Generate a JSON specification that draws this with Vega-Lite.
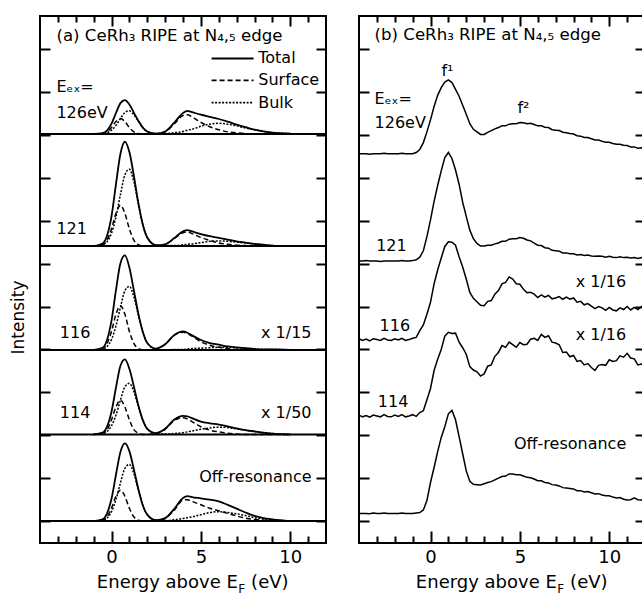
{
  "$schema": "https://vega.github.io/schema/vega-lite/v6.json",
  "padding": {"left": 8, "top": 14, "right": 0, "bottom": 0},
  "background": "white",
  "spacing": 27,
  "config": {
    "view": {"stroke": "black", "strokeWidth": 2},
    "axis": {"domain": false, "grid": false, "tickColor": "black", "tickWidth": 2, "labelFont": "DejaVu Sans", "labelFontSize": 18, "labelColor": "black", "titleFont": "DejaVu Sans", "titleColor": "black", "titleFontWeight": "normal"},
    "text": {"font": "DejaVu Sans", "fontSize": 16, "color": "black"},
    "line": {"color": "black"},
    "rule": {"color": "black"}
  },
  "datasets": {
    "base": [{"y": 9.02}, {"y": 6.41}, {"y": 3.99}, {"y": 2.02}, {"y": 0}],
    "pa": [
      {"x": -1, "T126": 9.02, "S126": 9.02, "B126": 9.02, "T121": 6.41, "S121": 6.41, "B121": 6.41, "T116": 3.99, "S116": 3.99, "B116": 3.99, "T114": 2.02, "S114": 2.02, "B114": 2.02, "T0": 0, "S0": 0, "B0": 0},
      {"x": -0.5, "T126": 9.04, "S126": 9.03, "B126": 9.03, "T121": 6.47, "S121": 6.44, "B121": 6.44, "T116": 4.04, "S116": 4.02, "B116": 4.01, "T114": 2.06, "S114": 2.05, "B114": 2.04, "T0": 0.04, "S0": 0.02, "B0": 0.02},
      {"x": -0.25, "T126": 9.10, "S126": 9.07, "B126": 9.05, "T121": 6.65, "S121": 6.55, "B121": 6.51, "T116": 4.22, "S116": 4.14, "B116": 4.07, "T114": 2.20, "S114": 2.13, "B114": 2.09, "T0": 0.18, "S0": 0.10, "B0": 0.07},
      {"x": 0, "T126": 9.26, "S126": 9.17, "B126": 9.11, "T121": 7.10, "S121": 6.81, "B121": 6.71, "T116": 4.67, "S116": 4.42, "B116": 4.23, "T114": 2.55, "S114": 2.36, "B114": 2.22, "T0": 0.52, "S0": 0.30, "B0": 0.22},
      {"x": 0.25, "T126": 9.51, "S126": 9.31, "B126": 9.22, "T121": 7.85, "S121": 7.17, "B121": 7.09, "T116": 5.38, "S116": 4.82, "B116": 4.55, "T114": 3.11, "S114": 2.66, "B114": 2.47, "T0": 1.08, "S0": 0.58, "B0": 0.50},
      {"x": 0.5, "T126": 9.74, "S126": 9.38, "B126": 9.38, "T121": 8.56, "S121": 7.36, "B121": 7.61, "T116": 6.01, "S116": 5.02, "B116": 4.98, "T114": 3.62, "S114": 2.82, "B114": 2.82, "T0": 1.61, "S0": 0.72, "B0": 0.89},
      {"x": 0.75, "T126": 9.81, "S126": 9.31, "B126": 9.52, "T121": 8.84, "S121": 7.17, "B121": 8.07, "T116": 6.19, "S116": 4.82, "B116": 5.37, "T114": 3.77, "S114": 2.66, "B114": 3.13, "T0": 1.81, "S0": 0.58, "B0": 1.23},
      {"x": 1, "T126": 9.71, "S126": 9.17, "B126": 9.56, "T121": 8.60, "S121": 6.81, "B121": 8.20, "T116": 5.91, "S116": 4.42, "B116": 5.47, "T114": 3.55, "S114": 2.36, "B114": 3.21, "T0": 1.63, "S0": 0.30, "B0": 1.32},
      {"x": 1.25, "T126": 9.52, "S126": 9.07, "B126": 9.47, "T121": 8.05, "S121": 6.55, "B121": 7.91, "T116": 5.38, "S116": 4.14, "B116": 5.23, "T114": 3.14, "S114": 2.13, "B114": 3.02, "T0": 1.21, "S0": 0.10, "B0": 1.11},
      {"x": 1.5, "T126": 9.33, "S126": 9.03, "B126": 9.32, "T121": 7.42, "S121": 6.44, "B121": 7.39, "T116": 4.84, "S116": 4.02, "B116": 4.80, "T114": 2.70, "S114": 2.05, "B114": 2.68, "T0": 0.75, "S0": 0.02, "B0": 0.73},
      {"x": 1.75, "T126": 9.17, "S126": 9.02, "B126": 9.17, "T121": 6.91, "S121": 6.41, "B121": 6.91, "T116": 4.41, "S116": 3.99, "B116": 4.40, "T114": 2.36, "S114": 2.02, "B114": 2.35, "T0": 0.37, "S0": 0, "B0": 0.37},
      {"x": 2, "T126": 9.08, "S126": 9.02, "B126": 9.08, "T121": 6.61, "S121": 6.41, "B121": 6.61, "T116": 4.15, "S116": 3.99, "B116": 4.15, "T114": 2.15, "S114": 2.02, "B114": 2.15, "T0": 0.15, "S0": 0, "B0": 0.15},
      {"x": 2.5, "T126": 9.03, "S126": 9.02, "B126": 9.03, "T121": 6.43, "S121": 6.41, "B121": 6.43, "T116": 4.02, "S116": 4.01, "B116": 4.00, "T114": 2.05, "S114": 2.04, "B114": 2.03, "T0": 0.02, "S0": 0, "B0": 0.02},
      {"x": 3, "T126": 9.08, "S126": 9.07, "B126": 9.03, "T121": 6.45, "S121": 6.44, "B121": 6.42, "T116": 4.12, "S116": 4.12, "B116": 3.99, "T114": 2.15, "S114": 2.14, "B114": 2.03, "T0": 0.07, "S0": 0.06, "B0": 0.01},
      {"x": 3.5, "T126": 9.28, "S126": 9.25, "B126": 9.05, "T121": 6.59, "S121": 6.58, "B121": 6.42, "T116": 4.33, "S116": 4.33, "B116": 4.00, "T114": 2.36, "S114": 2.34, "B114": 2.04, "T0": 0.28, "S0": 0.25, "B0": 0.03},
      {"x": 4, "T126": 9.51, "S126": 9.45, "B126": 9.08, "T121": 6.75, "S121": 6.72, "B121": 6.44, "T116": 4.42, "S116": 4.40, "B116": 4.00, "T114": 2.45, "S114": 2.41, "B114": 2.06, "T0": 0.54, "S0": 0.49, "B0": 0.06},
      {"x": 4.25, "T126": 9.56, "S126": 9.47, "B126": 9.11, "T121": 6.78, "S121": 6.74, "B121": 6.45, "T116": 4.39, "S116": 4.37, "B116": 4.01, "T114": 2.44, "S114": 2.38, "B114": 2.08, "T0": 0.58, "S0": 0.50, "B0": 0.08},
      {"x": 4.5, "T126": 9.53, "S126": 9.42, "B126": 9.13, "T121": 6.75, "S121": 6.70, "B121": 6.46, "T116": 4.33, "S116": 4.31, "B116": 4.02, "T114": 2.40, "S114": 2.32, "B114": 2.10, "T0": 0.56, "S0": 0.46, "B0": 0.10},
      {"x": 5, "T126": 9.47, "S126": 9.29, "B126": 9.20, "T121": 6.69, "S121": 6.61, "B121": 6.49, "T116": 4.22, "S116": 4.18, "B116": 4.03, "T114": 2.32, "S114": 2.20, "B114": 2.14, "T0": 0.53, "S0": 0.38, "B0": 0.15},
      {"x": 5.5, "T126": 9.42, "S126": 9.19, "B126": 9.25, "T121": 6.64, "S121": 6.54, "B121": 6.52, "T116": 4.15, "S116": 4.10, "B116": 4.04, "T114": 2.28, "S114": 2.12, "B114": 2.17, "T0": 0.50, "S0": 0.30, "B0": 0.20},
      {"x": 6, "T126": 9.37, "S126": 9.12, "B126": 9.27, "T121": 6.60, "S121": 6.48, "B121": 6.53, "T116": 4.11, "S116": 4.05, "B116": 4.05, "T114": 2.25, "S114": 2.08, "B114": 2.19, "T0": 0.46, "S0": 0.24, "B0": 0.22},
      {"x": 6.5, "T126": 9.31, "S126": 9.07, "B126": 9.25, "T121": 6.56, "S121": 6.45, "B121": 6.52, "T116": 4.07, "S116": 4.02, "B116": 4.05, "T114": 2.21, "S114": 2.05, "B114": 2.18, "T0": 0.38, "S0": 0.18, "B0": 0.20},
      {"x": 7, "T126": 9.24, "S126": 9.05, "B126": 9.21, "T121": 6.52, "S121": 6.43, "B121": 6.50, "T116": 4.05, "S116": 4.00, "B116": 4.04, "T114": 2.16, "S114": 2.03, "B114": 2.15, "T0": 0.29, "S0": 0.12, "B0": 0.17},
      {"x": 7.5, "T126": 9.18, "S126": 9.03, "B126": 9.16, "T121": 6.49, "S121": 6.42, "B121": 6.48, "T116": 4.03, "S116": 3.99, "B116": 4.02, "T114": 2.12, "S114": 2.02, "B114": 2.12, "T0": 0.20, "S0": 0.07, "B0": 0.13},
      {"x": 8, "T126": 9.12, "S126": 9.02, "B126": 9.12, "T121": 6.46, "S121": 6.41, "B121": 6.46, "T116": 4.01, "S116": 3.99, "B116": 4.01, "T114": 2.09, "S114": 2.02, "B114": 2.09, "T0": 0.12, "S0": 0.04, "B0": 0.08},
      {"x": 8.5, "T126": 9.08, "S126": 9.02, "B126": 9.08, "T121": 6.44, "S121": 6.41, "B121": 6.44, "T116": 4.00, "S116": 3.99, "B116": 4.00, "T114": 2.06, "S114": 2.02, "B114": 2.06, "T0": 0.07, "S0": 0.02, "B0": 0.05},
      {"x": 9, "T126": 9.05, "S126": 9.02, "B126": 9.05, "T121": 6.42, "S121": 6.41, "B121": 6.42, "T116": 4.00, "S116": 3.99, "B116": 4.00, "T114": 2.04, "S114": 2.02, "B114": 2.04, "T0": 0.04, "S0": 0.01, "B0": 0.03},
      {"x": 10, "T126": 9.03, "S126": 9.02, "B126": 9.03, "T121": 6.41, "S121": 6.41, "B121": 6.41, "T116": 3.99, "S116": 3.99, "B116": 3.99, "T114": 2.02, "S114": 2.02, "B114": 2.02, "T0": 0, "S0": 0, "B0": 0}
    ],
    "pb": [
      {"x": -4.0, "p126": 8.56, "p121": 6.06, "p116": 4.25, "p114": 2.47, "poff": 0.18},
      {"x": -3.8, "p126": 8.56, "p121": 6.06, "p116": 4.21, "p114": 2.43, "poff": 0.18},
      {"x": -3.6, "p126": 8.56, "p121": 6.07, "p116": 4.24, "p114": 2.46, "poff": 0.18},
      {"x": -3.4, "p126": 8.55, "p121": 6.06, "p116": 4.20, "p114": 2.42, "poff": 0.17},
      {"x": -3.2, "p126": 8.56, "p121": 6.06, "p116": 4.25, "p114": 2.47, "poff": 0.19},
      {"x": -3.0, "p126": 8.56, "p121": 6.06, "p116": 4.23, "p114": 2.45, "poff": 0.18},
      {"x": -2.8, "p126": 8.56, "p121": 6.05, "p116": 4.21, "p114": 2.43, "poff": 0.18},
      {"x": -2.6, "p126": 8.57, "p121": 6.06, "p116": 4.26, "p114": 2.48, "poff": 0.19},
      {"x": -2.4, "p126": 8.56, "p121": 6.06, "p116": 4.22, "p114": 2.44, "poff": 0.18},
      {"x": -2.2, "p126": 8.56, "p121": 6.06, "p116": 4.21, "p114": 2.43, "poff": 0.18},
      {"x": -2.0, "p126": 8.56, "p121": 6.06, "p116": 4.25, "p114": 2.47, "poff": 0.18},
      {"x": -1.8, "p126": 8.56, "p121": 6.06, "p116": 4.22, "p114": 2.44, "poff": 0.18},
      {"x": -1.6, "p126": 8.57, "p121": 6.07, "p116": 4.26, "p114": 2.48, "poff": 0.19},
      {"x": -1.4, "p126": 8.56, "p121": 6.06, "p116": 4.21, "p114": 2.43, "poff": 0.18},
      {"x": -1.2, "p126": 8.56, "p121": 6.06, "p116": 4.23, "p114": 2.45, "poff": 0.18},
      {"x": -1.0, "p126": 8.56, "p121": 6.07, "p116": 4.26, "p114": 2.48, "poff": 0.18},
      {"x": -0.8, "p126": 8.59, "p121": 6.09, "p116": 4.28, "p114": 2.44, "poff": 0.19},
      {"x": -0.6, "p126": 8.66, "p121": 6.15, "p116": 4.44, "p114": 2.53, "poff": 0.20},
      {"x": -0.4, "p126": 8.82, "p121": 6.30, "p116": 4.57, "p114": 2.57, "poff": 0.26},
      {"x": -0.2, "p126": 9.07, "p121": 6.63, "p116": 4.82, "p114": 2.83, "poff": 0.48},
      {"x": 0.0, "p126": 9.35, "p121": 7.02, "p116": 5.10, "p114": 3.09, "poff": 0.90},
      {"x": 0.2, "p126": 9.66, "p121": 7.45, "p116": 5.53, "p114": 3.51, "poff": 1.25},
      {"x": 0.4, "p126": 9.92, "p121": 7.82, "p116": 5.85, "p114": 3.77, "poff": 1.62},
      {"x": 0.6, "p126": 10.10, "p121": 8.16, "p116": 6.13, "p114": 4.00, "poff": 1.95},
      {"x": 0.8, "p126": 10.23, "p121": 8.47, "p116": 6.40, "p114": 4.31, "poff": 2.20},
      {"x": 1.0, "p126": 10.28, "p121": 8.59, "p116": 6.51, "p114": 4.40, "poff": 2.50},
      {"x": 1.2, "p126": 10.22, "p121": 8.45, "p116": 6.50, "p114": 4.37, "poff": 2.58},
      {"x": 1.4, "p126": 10.06, "p121": 8.18, "p116": 6.43, "p114": 4.38, "poff": 2.36},
      {"x": 1.6, "p126": 9.90, "p121": 7.85, "p116": 6.16, "p114": 4.17, "poff": 1.97},
      {"x": 1.8, "p126": 9.69, "p121": 7.43, "p116": 5.92, "p114": 4.04, "poff": 1.57},
      {"x": 2.0, "p126": 9.48, "p121": 7.10, "p116": 5.64, "p114": 3.89, "poff": 1.17},
      {"x": 2.2, "p126": 9.26, "p121": 6.78, "p116": 5.33, "p114": 3.60, "poff": 0.93},
      {"x": 2.4, "p126": 9.13, "p121": 6.58, "p116": 5.19, "p114": 3.52, "poff": 0.86},
      {"x": 2.6, "p126": 9.07, "p121": 6.47, "p116": 5.11, "p114": 3.48, "poff": 0.85},
      {"x": 2.8, "p126": 9.01, "p121": 6.41, "p116": 5.03, "p114": 3.38, "poff": 0.84},
      {"x": 3.0, "p126": 9.01, "p121": 6.41, "p116": 5.02, "p114": 3.43, "poff": 0.87},
      {"x": 3.2, "p126": 9.06, "p121": 6.43, "p116": 5.12, "p114": 3.61, "poff": 0.90},
      {"x": 3.4, "p126": 9.10, "p121": 6.43, "p116": 5.14, "p114": 3.64, "poff": 0.92},
      {"x": 3.6, "p126": 9.14, "p121": 6.46, "p116": 5.29, "p114": 3.84, "poff": 0.96},
      {"x": 3.8, "p126": 9.17, "p121": 6.48, "p116": 5.37, "p114": 3.93, "poff": 1.00},
      {"x": 4.0, "p126": 9.21, "p121": 6.52, "p116": 5.53, "p114": 4.09, "poff": 1.04},
      {"x": 4.2, "p126": 9.21, "p121": 6.52, "p116": 5.56, "p114": 4.05, "poff": 1.05},
      {"x": 4.4, "p126": 9.25, "p121": 6.57, "p116": 5.69, "p114": 4.17, "poff": 1.10},
      {"x": 4.6, "p126": 9.26, "p121": 6.58, "p116": 5.64, "p114": 4.11, "poff": 1.10},
      {"x": 4.8, "p126": 9.26, "p121": 6.58, "p116": 5.53, "p114": 4.05, "poff": 1.08},
      {"x": 5.0, "p126": 9.29, "p121": 6.61, "p116": 5.52, "p114": 4.16, "poff": 1.08},
      {"x": 5.2, "p126": 9.28, "p121": 6.59, "p116": 5.40, "p114": 4.11, "poff": 1.05},
      {"x": 5.4, "p126": 9.26, "p121": 6.55, "p116": 5.32, "p114": 4.12, "poff": 1.02},
      {"x": 5.6, "p126": 9.27, "p121": 6.53, "p116": 5.33, "p114": 4.24, "poff": 1.01},
      {"x": 5.8, "p126": 9.24, "p121": 6.48, "p116": 5.29, "p114": 4.26, "poff": 0.98},
      {"x": 6.0, "p126": 9.21, "p121": 6.43, "p116": 5.21, "p114": 4.21, "poff": 0.94},
      {"x": 6.2, "p126": 9.21, "p121": 6.42, "p116": 5.27, "p114": 4.35, "poff": 0.94},
      {"x": 6.4, "p126": 9.18, "p121": 6.37, "p116": 5.22, "p114": 4.28, "poff": 0.90},
      {"x": 6.6, "p126": 9.17, "p121": 6.36, "p116": 5.26, "p114": 4.32, "poff": 0.89},
      {"x": 6.8, "p126": 9.12, "p121": 6.31, "p116": 5.18, "p114": 4.17, "poff": 0.85},
      {"x": 7.0, "p126": 9.11, "p121": 6.30, "p116": 5.20, "p114": 4.15, "poff": 0.84},
      {"x": 7.2, "p126": 9.10, "p121": 6.29, "p116": 5.23, "p114": 4.11, "poff": 0.82},
      {"x": 7.4, "p126": 9.06, "p121": 6.25, "p116": 5.17, "p114": 3.93, "poff": 0.78},
      {"x": 7.6, "p126": 9.05, "p121": 6.25, "p116": 5.22, "p114": 3.94, "poff": 0.77},
      {"x": 7.8, "p126": 9.03, "p121": 6.23, "p116": 5.17, "p114": 3.83, "poff": 0.76},
      {"x": 8.0, "p126": 9.02, "p121": 6.23, "p116": 5.20, "p114": 3.86, "poff": 0.75},
      {"x": 8.2, "p126": 8.98, "p121": 6.20, "p116": 5.10, "p114": 3.72, "poff": 0.71},
      {"x": 8.4, "p126": 8.97, "p121": 6.21, "p116": 5.12, "p114": 3.74, "poff": 0.71},
      {"x": 8.6, "p126": 8.94, "p121": 6.19, "p116": 5.04, "p114": 3.64, "poff": 0.68},
      {"x": 8.8, "p126": 8.94, "p121": 6.20, "p116": 5.07, "p114": 3.67, "poff": 0.69},
      {"x": 9.0, "p126": 8.91, "p121": 6.18, "p116": 5.01, "p114": 3.58, "poff": 0.66},
      {"x": 9.2, "p126": 8.88, "p121": 6.17, "p116": 4.95, "p114": 3.51, "poff": 0.63},
      {"x": 9.4, "p126": 8.88, "p121": 6.18, "p116": 5.00, "p114": 3.63, "poff": 0.64},
      {"x": 9.6, "p126": 8.85, "p121": 6.17, "p116": 4.97, "p114": 3.65, "poff": 0.61},
      {"x": 9.8, "p126": 8.83, "p121": 6.15, "p116": 4.91, "p114": 3.63, "poff": 0.59},
      {"x": 10.0, "p126": 8.83, "p121": 6.17, "p116": 4.98, "p114": 3.76, "poff": 0.59},
      {"x": 10.2, "p126": 8.80, "p121": 6.15, "p116": 4.92, "p114": 3.72, "poff": 0.56},
      {"x": 10.4, "p126": 8.78, "p121": 6.14, "p116": 4.90, "p114": 3.74, "poff": 0.54},
      {"x": 10.6, "p126": 8.78, "p121": 6.16, "p116": 4.97, "p114": 3.85, "poff": 0.55},
      {"x": 10.8, "p126": 8.76, "p121": 6.14, "p116": 4.93, "p114": 3.82, "poff": 0.51},
      {"x": 11.0, "p126": 8.75, "p121": 6.15, "p116": 5.00, "p114": 3.91, "poff": 0.49},
      {"x": 11.2, "p126": 8.72, "p121": 6.13, "p116": 4.92, "p114": 3.80, "poff": 0.50},
      {"x": 11.4, "p126": 8.72, "p121": 6.14, "p116": 4.98, "p114": 3.78, "poff": 0.54},
      {"x": 11.6, "p126": 8.69, "p121": 6.12, "p116": 4.93, "p114": 3.64, "poff": 0.50},
      {"x": 11.8, "p126": 8.70, "p121": 6.14, "p116": 5.00, "p114": 3.66, "poff": 0.49},
      {"x": 12.0, "p126": 8.68, "p121": 6.13, "p116": 4.97, "p114": 3.60, "poff": 0.47}
    ],
    "legend": [
      {"x": 5.6, "x2": 7.95, "y": 10.78, "c": "Total"},
      {"x": 5.6, "x2": 7.95, "y": 10.27, "c": "Surface"},
      {"x": 5.6, "x2": 7.95, "y": 9.75, "c": "Bulk"}
    ],
    "legendText": [
      {"x": 8.21, "y": 10.78, "t": "Total"},
      {"x": 8.21, "y": 10.27, "t": "Surface"},
      {"x": 8.21, "y": 9.75, "t": "Bulk"}
    ],
    "aTitle": [{"x": -3.08, "y": 11.19, "t": "(a) CeRh₃ RIPE at N₄,₅ edge"}],
    "aLeft": [
      {"x": -3.08, "y": 9.99, "t": "Eₑₓ="},
      {"x": -3.08, "y": 9.39, "t": "126eV"},
      {"x": -3.08, "y": 6.69, "t": "121"},
      {"x": -2.89, "y": 4.27, "t": "116"},
      {"x": -2.89, "y": 2.41, "t": "114"}
    ],
    "aRight": [
      {"x": 11.19, "y": 4.27, "t": "x 1/15"},
      {"x": 11.19, "y": 2.41, "t": "x 1/50"},
      {"x": 11.19, "y": 0.92, "t": "Off-resonance"}
    ],
    "bTitle": [{"x": -3.13, "y": 11.2, "t": "(b) CeRh₃ RIPE at N₄,₅ edge"}],
    "bLeft": [
      {"x": -3.13, "y": 9.72, "t": "Eₑₓ="},
      {"x": -3.13, "y": 9.17, "t": "126eV"},
      {"x": -3.04, "y": 6.29, "t": "121"},
      {"x": -2.85, "y": 4.44, "t": "116"},
      {"x": -2.95, "y": 2.66, "t": "114"}
    ],
    "bRight": [
      {"x": 10.95, "y": 5.45, "t": "x 1/16"},
      {"x": 10.95, "y": 4.21, "t": "x 1/16"},
      {"x": 10.95, "y": 1.68, "t": "Off-resonance"}
    ],
    "bCenter": [
      {"x": 0.95, "y": 10.37, "t": "f¹"},
      {"x": 5.2, "y": 9.52, "t": "f²"}
    ],
    "xt1": [{"x": 7.07, "y": -1.56, "t": "Energy above E"}],
    "xt2": [{"x": 7.09, "y": -1.56, "t": "F"}],
    "xt3": [{"x": 7.81, "y": -1.56, "t": "(eV)"}]
  },
  "hconcat": [
    {
      "width": 286,
      "height": 527,
      "resolve": {"axis": {"x": "independent", "y": "independent"}},
      "layer": [
        {
          "data": {"name": "base"},
          "mark": {"type": "rule", "strokeWidth": 2},
          "encoding": {"y": {"field": "y", "type": "quantitative", "scale": {"domain": [-0.51, 11.77], "nice": false}, "axis": null}}
        },
        {
          "data": {"name": "pa"},
          "transform": [{"fold": ["T126", "T121", "T116", "T114", "T0"], "as": ["spec", "I"]}],
          "mark": {"type": "line", "interpolate": "monotone", "strokeWidth": 1.8},
          "encoding": {
            "x": {"field": "x", "type": "quantitative", "scale": {"domain": [-4, 12], "nice": false}, "axis": {"orient": "bottom", "values": [0, 5, 10], "tickSize": -12, "labelPadding": 17, "title": null}},
            "y": {"field": "I", "type": "quantitative", "scale": {"domain": [-0.51, 11.77], "nice": false}, "axis": {"orient": "left", "values": [0, 1, 2, 3, 4, 5, 6, 7, 8, 9, 10, 11], "tickSize": -10, "labels": false, "title": "Intensity", "titleX": -17, "titleY": 301, "titleBaseline": "alphabetic", "titleFontSize": 17}},
            "detail": {"field": "spec"}
          }
        },
        {
          "data": {"name": "pa"},
          "transform": [{"fold": ["S126", "S121", "S116", "S114", "S0"], "as": ["spec", "I"]}],
          "mark": {"type": "line", "interpolate": "monotone", "strokeWidth": 1.5, "strokeDash": [5, 3]},
          "encoding": {
            "x": {"field": "x", "type": "quantitative", "scale": {"domain": [-4, 12], "nice": false}, "axis": {"orient": "top", "values": [0, 5, 10], "tickSize": -10, "labels": false, "title": null}},
            "y": {"field": "I", "type": "quantitative", "scale": {"domain": [-0.51, 11.77], "nice": false}, "axis": {"orient": "right", "values": [0, 1, 2, 3, 4, 5, 6, 7, 8, 9, 10, 11], "tickSize": -10, "labels": false, "title": null}},
            "detail": {"field": "spec"}
          }
        },
        {
          "data": {"name": "pa"},
          "transform": [{"fold": ["B126", "B121", "B116", "B114", "B0"], "as": ["spec", "I"]}],
          "mark": {"type": "line", "interpolate": "monotone", "strokeWidth": 1.5, "strokeDash": [2, 1.5]},
          "encoding": {
            "x": {"field": "x", "type": "quantitative", "scale": {"domain": [-4, 12], "nice": false}, "axis": {"orient": "bottom", "values": [-3, -2, -1, 1, 2, 3, 4, 6, 7, 8, 9, 11], "tickSize": -7, "labels": false, "title": null}},
            "y": {"field": "I", "type": "quantitative", "scale": {"domain": [-0.51, 11.77], "nice": false}, "axis": null},
            "detail": {"field": "spec"}
          }
        },
        {
          "data": {"name": "legend"},
          "mark": {"type": "rule", "strokeWidth": 1.8},
          "encoding": {
            "x": {"field": "x", "type": "quantitative", "scale": {"domain": [-4, 12], "nice": false}, "axis": {"orient": "top", "values": [-3, -2, -1, 1, 2, 3, 4, 6, 7, 8, 9, 11], "tickSize": -6, "labels": false, "title": null}},
            "x2": {"field": "x2"},
            "y": {"field": "y", "type": "quantitative", "scale": {"domain": [-0.51, 11.77], "nice": false}, "axis": null},
            "strokeDash": {"field": "c", "type": "nominal", "scale": {"domain": ["Total", "Surface", "Bulk"], "range": [[1, 0], [5, 3], [2, 1.5]]}, "legend": null}
          }
        },
        {
          "data": {"name": "legendText"},
          "mark": {"type": "text", "align": "left", "baseline": "middle"},
          "encoding": {
            "x": {"field": "x", "type": "quantitative", "axis": null},
            "y": {"field": "y", "type": "quantitative", "axis": null},
            "text": {"field": "t"}
          }
        },
        {
          "data": {"name": "aTitle"},
          "mark": {"type": "text", "align": "left", "baseline": "alphabetic", "fontSize": 16.6},
          "encoding": {
            "x": {"field": "x", "type": "quantitative", "axis": null},
            "y": {"field": "y", "type": "quantitative", "axis": null},
            "text": {"field": "t"}
          }
        },
        {
          "data": {"name": "aLeft"},
          "mark": {"type": "text", "align": "left", "baseline": "alphabetic"},
          "encoding": {
            "x": {"field": "x", "type": "quantitative", "axis": null},
            "y": {"field": "y", "type": "quantitative", "axis": null},
            "text": {"field": "t"}
          }
        },
        {
          "data": {"name": "aRight"},
          "mark": {"type": "text", "align": "right", "baseline": "alphabetic"},
          "encoding": {
            "x": {"field": "x", "type": "quantitative", "axis": null},
            "y": {"field": "y", "type": "quantitative", "axis": null},
            "text": {"field": "t"}
          }
        },
        {
          "data": {"name": "xt1"},
          "mark": {"type": "text", "align": "right", "baseline": "alphabetic", "fontSize": 18},
          "encoding": {
            "x": {"field": "x", "type": "quantitative", "axis": null},
            "y": {"field": "y", "type": "quantitative", "axis": null},
            "text": {"field": "t"}
          }
        },
        {
          "data": {"name": "xt2"},
          "mark": {"type": "text", "align": "left", "baseline": "alphabetic", "fontSize": 12, "dy": 5},
          "encoding": {
            "x": {"field": "x", "type": "quantitative", "axis": null},
            "y": {"field": "y", "type": "quantitative", "axis": null},
            "text": {"field": "t"}
          }
        },
        {
          "data": {"name": "xt3"},
          "mark": {"type": "text", "align": "left", "baseline": "alphabetic", "fontSize": 18},
          "encoding": {
            "x": {"field": "x", "type": "quantitative", "axis": null},
            "y": {"field": "y", "type": "quantitative", "axis": null},
            "text": {"field": "t"}
          }
        }
      ]
    },
    {
      "width": 286,
      "height": 527,
      "resolve": {"axis": {"x": "independent", "y": "independent"}},
      "layer": [
        {
          "data": {"name": "pb"},
          "transform": [{"fold": ["p126", "p121", "p116", "p114", "poff"], "as": ["spec", "I"]}],
          "mark": {"type": "line", "strokeWidth": 1.5},
          "encoding": {
            "x": {"field": "x", "type": "quantitative", "scale": {"domain": [-4, 12], "nice": false}, "axis": {"orient": "bottom", "values": [0, 5, 10], "tickSize": -12, "labelPadding": 17, "title": null}},
            "y": {"field": "I", "type": "quantitative", "scale": {"domain": [-0.51, 11.77], "nice": false}, "axis": {"orient": "left", "values": [0, 1, 2, 3, 4, 5, 6, 7, 8, 9, 10, 11], "tickSize": -10, "labels": false, "title": null}},
            "detail": {"field": "spec"}
          }
        },
        {
          "data": {"name": "bLeft"},
          "mark": {"type": "text", "align": "left", "baseline": "alphabetic"},
          "encoding": {
            "x": {"field": "x", "type": "quantitative", "scale": {"domain": [-4, 12], "nice": false}, "axis": {"orient": "top", "values": [0, 5, 10], "tickSize": -10, "labels": false, "title": null}},
            "y": {"field": "y", "type": "quantitative", "scale": {"domain": [-0.51, 11.77], "nice": false}, "axis": {"orient": "right", "values": [0, 1, 2, 3, 4, 5, 6, 7, 8, 9, 10, 11], "tickSize": -10, "labels": false, "title": null}},
            "text": {"field": "t"}
          }
        },
        {
          "data": {"name": "bTitle"},
          "mark": {"type": "text", "align": "left", "baseline": "alphabetic", "fontSize": 16.6},
          "encoding": {
            "x": {"field": "x", "type": "quantitative", "axis": null},
            "y": {"field": "y", "type": "quantitative", "axis": null},
            "text": {"field": "t"}
          }
        },
        {
          "data": {"name": "bRight"},
          "mark": {"type": "text", "align": "right", "baseline": "alphabetic"},
          "encoding": {
            "x": {"field": "x", "type": "quantitative", "scale": {"domain": [-4, 12], "nice": false}, "axis": {"orient": "bottom", "values": [-3, -2, -1, 1, 2, 3, 4, 6, 7, 8, 9, 11], "tickSize": -7, "labels": false, "title": null}},
            "y": {"field": "y", "type": "quantitative", "axis": null},
            "text": {"field": "t"}
          }
        },
        {
          "data": {"name": "bCenter"},
          "mark": {"type": "text", "align": "center", "baseline": "alphabetic"},
          "encoding": {
            "x": {"field": "x", "type": "quantitative", "scale": {"domain": [-4, 12], "nice": false}, "axis": {"orient": "top", "values": [-3, -2, -1, 1, 2, 3, 4, 6, 7, 8, 9, 11], "tickSize": -6, "labels": false, "title": null}},
            "y": {"field": "y", "type": "quantitative", "axis": null},
            "text": {"field": "t"}
          }
        },
        {
          "data": {"name": "xt1"},
          "mark": {"type": "text", "align": "right", "baseline": "alphabetic", "fontSize": 18},
          "encoding": {
            "x": {"field": "x", "type": "quantitative", "axis": null},
            "y": {"field": "y", "type": "quantitative", "axis": null},
            "text": {"field": "t"}
          }
        },
        {
          "data": {"name": "xt2"},
          "mark": {"type": "text", "align": "left", "baseline": "alphabetic", "fontSize": 12, "dy": 5},
          "encoding": {
            "x": {"field": "x", "type": "quantitative", "axis": null},
            "y": {"field": "y", "type": "quantitative", "axis": null},
            "text": {"field": "t"}
          }
        },
        {
          "data": {"name": "xt3"},
          "mark": {"type": "text", "align": "left", "baseline": "alphabetic", "fontSize": 18},
          "encoding": {
            "x": {"field": "x", "type": "quantitative", "axis": null},
            "y": {"field": "y", "type": "quantitative", "axis": null},
            "text": {"field": "t"}
          }
        }
      ]
    }
  ]
}
